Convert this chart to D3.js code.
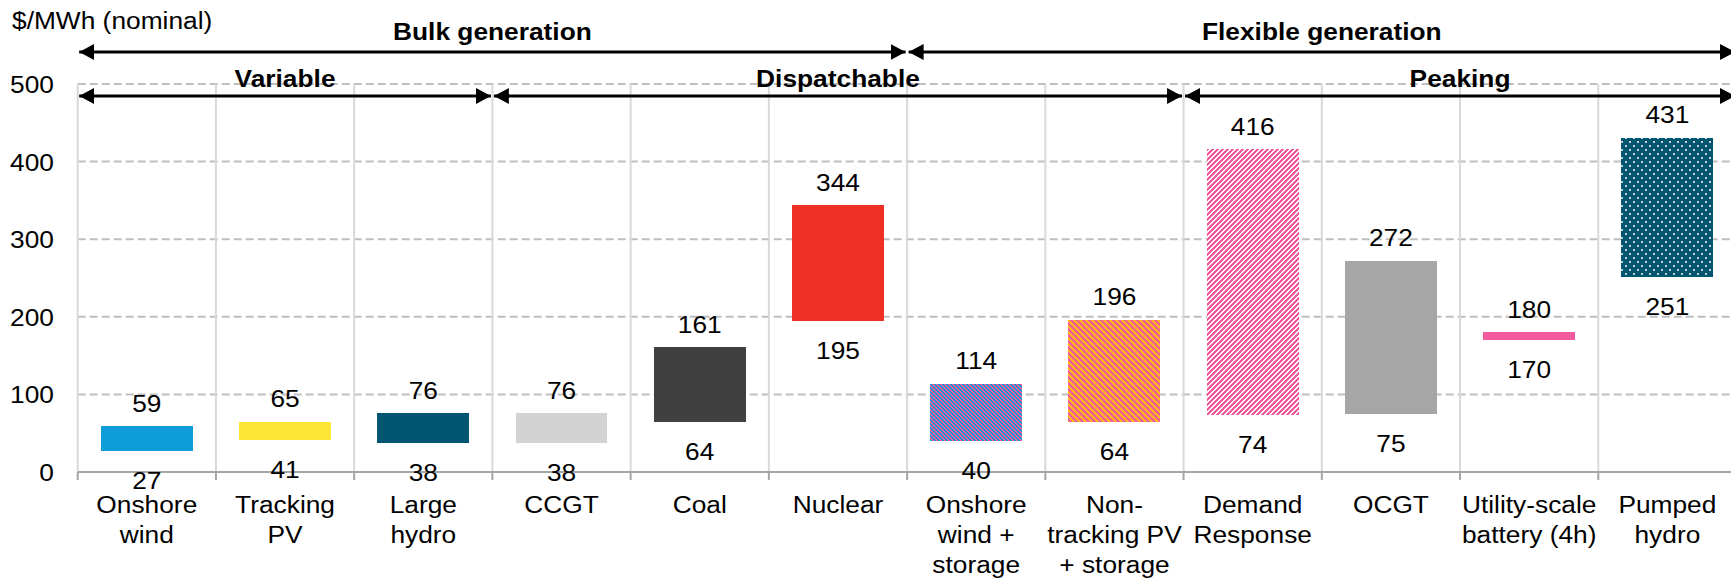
<!DOCTYPE html>
<html>
<head>
<meta charset="utf-8">
<script src="https://cdn.jsdelivr.net/npm/d3@7/dist/d3.min.js"></script>
<style>
  html, body { margin: 0; padding: 0; background: #fff; }
  svg { display: block; }
  text { font-family: "Liberation Sans", Arial, sans-serif; fill: #000; }
</style>
</head>
<body>
<svg id="chart" width="1731" height="579"></svg>
<script>
// ---- data ----
const categories = ["Onshore wind","Tracking PV","Large hydro","CCGT","Coal","Nuclear",
  "Onshore wind + storage","Non-tracking PV + storage","Demand Response","OCGT",
  "Utility-scale battery (4h)","Pumped hydro"];
const categoryLines = [["Onshore","wind"],["Tracking","PV"],["Large","hydro"],["CCGT"],["Coal"],["Nuclear"],
  ["Onshore","wind +","storage"],["Non-","tracking PV","+ storage"],["Demand","Response"],["OCGT"],
  ["Utility-scale","battery (4h)"],["Pumped","hydro"]];
const lowValues  = [27, 41, 38, 38, 64, 195, 40, 64, 74, 75, 170, 251];
const highValues = [59, 65, 76, 76, 161, 344, 114, 196, 416, 272, 180, 431];
const yTicks = [0, 100, 200, 300, 400, 500];
const topGroupNames = ["Bulk generation", "Flexible generation"];
const topGroupStart = [0, 6];
const topGroupEnd   = [6, 12];
const subGroupNames = ["Variable", "Dispatchable", "Peaking"];
const subGroupStart = [0, 3, 8];
const subGroupEnd   = [3, 8, 12];
const yAxisTitle = "$/MWh (nominal)";

// ---- styles ----
const fills = ["#0F9DD9","#FFE535","#005670","#D3D3D3","#404040","#EE3124",
  "url(#pWindStor)","url(#pPvStor)","url(#pDR)","#A6A6A6","#F15A9C","url(#pHydro)"];

const svg = d3.select("#chart");
const W = 1731;
const left = 77.7, right = 1736.5;
const x = d3.scaleBand().domain(categories).range([left, right]).padding(0);
const y = d3.scaleLinear().domain([0, 500]).range([472, 84]);
const bw = x.bandwidth();
const barW = bw * 0.665;
const fontSize = 23.5;
const sx = 1.12; // horizontal stretch of the reference lettering
const place = (px, py) => `translate(${px},${py}) scale(${sx},1)`;

// ---- patterns ----
const defs = svg.append("defs");
function pixelPattern(id, size, colA, colB, test) {
  const p = defs.append("pattern").attr("id", id).attr("patternUnits", "userSpaceOnUse")
    .attr("width", size).attr("height", size);
  p.append("rect").attr("width", size).attr("height", size).attr("fill", colB);
  for (let i = 0; i < size; i++) for (let j = 0; j < size; j++) {
    if (test(i, j, size)) p.append("rect").attr("x", i).attr("y", j).attr("width", 1).attr("height", 1)
      .attr("fill", colA).attr("shape-rendering", "crispEdges");
  }
}
pixelPattern("pWindStor", 4, "#F15A9C", "#0F9DD9", (i, j, s) => ((i - j + s * 4) % s) < 2);
pixelPattern("pPvStor", 6, "#F15A9C", "#FFB81C", (i, j, s) => ((i - j + s * 4) % s) < 3);
pixelPattern("pDR", 5, "#F15A9C", "#FFFFFF", (i, j, s) => ((i + j) % s) < 3);
(function () {
  const p = defs.append("pattern").attr("id", "pHydro").attr("patternUnits", "userSpaceOnUse")
    .attr("width", 8).attr("height", 8);
  p.append("rect").attr("width", 8).attr("height", 8).attr("fill", "#005670");
  p.append("rect").attr("x", 1).attr("y", 1).attr("width", 2).attr("height", 2).attr("fill", "#C9CDD0");
  p.append("rect").attr("x", 5).attr("y", 5).attr("width", 2).attr("height", 2).attr("fill", "#C9CDD0");
})();

// arrowheads
const mk = (id, dir) => {
  const m = defs.append("marker").attr("id", id).attr("viewBox", "0 0 15 16")
    .attr("markerWidth", 15).attr("markerHeight", 16).attr("markerUnits", "userSpaceOnUse")
    .attr("refX", dir > 0 ? 15 : 0).attr("refY", 8).attr("orient", "0");
  m.append("path").attr("d", dir > 0 ? "M0,0 L15,8 L0,16 Z" : "M15,0 L0,8 L15,16 Z").attr("fill", "#000");
};
mk("arrR", 1); mk("arrL", -1);

// ---- gridlines ----
const boundaries = categories.map(c => x(c)).concat([right]);
svg.append("g").selectAll("line").data(yTicks.filter(t => t > 0)).join("line")
  .attr("x1", left).attr("x2", W).attr("y1", d => y(d)).attr("y2", d => y(d))
  .attr("stroke", "#BFBFBF").attr("stroke-width", 2).attr("stroke-dasharray", "8,4");
svg.append("g").selectAll("line").data(boundaries).join("line")
  .attr("x1", d => d).attr("x2", d => d).attr("y1", y(500)).attr("y2", y(0))
  .attr("stroke", "#D9D9D9").attr("stroke-width", 2);

// x axis
const xAxis = d3.axisBottom(x).tickSize(0).tickFormat("");
const gx = svg.append("g").attr("transform", `translate(0,${y(0)})`).call(xAxis);
gx.select(".domain").remove();
gx.append("line").attr("x1", left).attr("x2", W).attr("y1", 0).attr("y2", 0)
  .attr("stroke", "#A6A6A6").attr("stroke-width", 2);
gx.selectAll(".bnd").data(boundaries).join("line").attr("class", "bnd")
  .attr("x1", d => d).attr("x2", d => d).attr("y1", 0).attr("y2", 8)
  .attr("stroke", "#A6A6A6").attr("stroke-width", 2);

// y axis
const yAxis = d3.axisLeft(y).tickValues(yTicks).tickSize(0).tickPadding(0);
const gy = svg.append("g").attr("transform", `translate(54,0)`).call(yAxis);
gy.select(".domain").remove();
gy.selectAll("text").attr("font-size", fontSize).attr("font-family", '"Liberation Sans", Arial, sans-serif')
  .attr("fill", "#000").attr("x", 0).attr("dy", "0.36em").attr("transform", `scale(${sx},1)`);

svg.append("text").attr("transform", place(12, 29)).attr("font-size", fontSize).text(yAxisTitle);

// ---- bars ----
const bars = categories.map((c, i) => ({ c, lo: lowValues[i], hi: highValues[i], fill: fills[i], lines: categoryLines[i] }));
svg.append("g").selectAll("rect").data(bars).join("rect")
  .attr("x", d => x(d.c) + (bw - barW) / 2).attr("width", barW)
  .attr("y", d => y(d.hi)).attr("height", d => y(d.lo) - y(d.hi))
  .attr("fill", d => d.fill).attr("shape-rendering", "crispEdges");

// value labels
const cx = d => x(d.c) + bw / 2;
svg.append("g").selectAll("text").data(bars).join("text")
  .attr("transform", d => place(cx(d), y(d.hi) - 14.5)).attr("text-anchor", "middle").attr("font-size", fontSize)
  .text(d => d.hi);
svg.append("g").selectAll("text").data(bars).join("text")
  .attr("transform", d => place(cx(d), y(d.lo) + 38)).attr("text-anchor", "middle").attr("font-size", fontSize)
  .text(d => d.lo);

// category labels
const cl = svg.append("g").selectAll("text").data(bars).join("text")
  .attr("transform", d => place(cx(d), 513)).attr("text-anchor", "middle").attr("font-size", fontSize);
cl.selectAll("tspan").data(d => d.lines.map((l, k) => ({ l, k }))).join("tspan")
  .attr("x", 0).attr("y", t => t.k * 30).text(t => t.l);

// ---- group arrows ----
function groupRow(names, starts, ends, arrowY, textY) {
  names.forEach((n, i) => {
    const x0 = boundaries[starts[i]] + 1.5, x1 = boundaries[ends[i]] - 1.5;
    svg.append("line").attr("x1", x0).attr("x2", x1).attr("y1", arrowY).attr("y2", arrowY)
      .attr("stroke", "#000").attr("stroke-width", 3)
      .attr("marker-start", "url(#arrL)").attr("marker-end", "url(#arrR)");
    svg.append("text").attr("transform", place((x0 + x1) / 2, textY)).attr("text-anchor", "middle")
      .attr("font-size", fontSize).attr("font-weight", "bold").text(n);
  });
}
groupRow(topGroupNames, topGroupStart, topGroupEnd, 52, 40);
groupRow(subGroupNames, subGroupStart, subGroupEnd, 96, 87);
</script>
</body>
</html>
